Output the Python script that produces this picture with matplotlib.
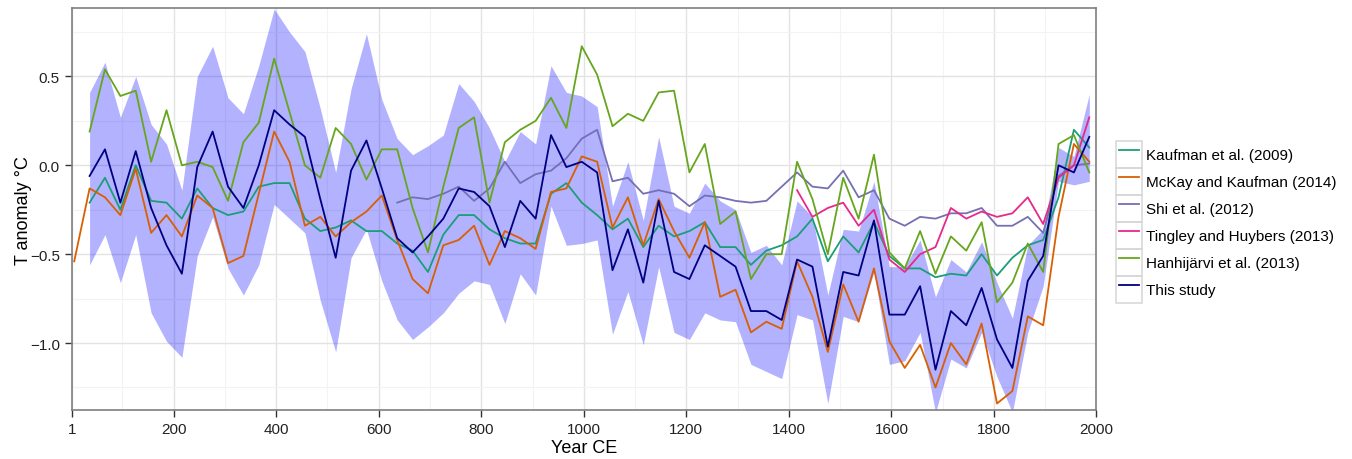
import numpy as np
import matplotlib
matplotlib.use("Agg")
from matplotlib import pyplot as plt
from matplotlib.legend_handler import HandlerLine2D
from matplotlib.lines import Line2D
from matplotlib.patches import Rectangle
from matplotlib.ticker import FixedLocator

plt.rcParams['font.family'] = ['Liberation Sans', 'DejaVu Sans']

# 30-year bins
years = np.arange(36, 1987, 30)

this_study = [-0.06, 0.09, -0.21, 0.08, -0.24, -0.45, -0.61, -0.01, 0.19, -0.12,
              -0.24, 0.00, 0.31, 0.23, 0.16, -0.19, -0.52, -0.03, 0.14, -0.13, -0.41, -0.49,
              -0.40, -0.30, -0.13, -0.15, -0.23, -0.46, -0.20, -0.30, 0.17, -0.01, 0.02,
              -0.04, -0.59, -0.36, -0.66, -0.20, -0.60, -0.64, -0.45, -0.51, -0.57, -0.82,
              -0.82, -0.87, -0.53, -0.57, -1.02, -0.60, -0.62, -0.31, -0.84, -0.84, -0.68,
              -1.15, -0.82, -0.90, -0.69, -0.98, -1.14, -0.65, -0.51, 0.00, -0.04, 0.16]

band_hi = [0.41, 0.58, 0.27, 0.50, 0.23, 0.12, -0.14, 0.50, 0.67, 0.38,
           0.29, 0.56, 0.88, 0.75, 0.64, 0.32, -0.04, 0.43, 0.74, 0.37, 0.15, 0.06,
           0.11, 0.17, 0.46, 0.36, 0.21, 0.02, 0.19, 0.12, 0.56, 0.41, 0.39,
           0.33, -0.23, 0.02, -0.31, 0.16, -0.23, -0.27, -0.10, -0.20, -0.25, -0.49,
           -0.45, -0.56, -0.20, -0.29, -0.73, -0.36, -0.37, -0.09, -0.57, -0.57, -0.42,
           -0.74, -0.53, -0.60, -0.43, -0.66, -0.86, -0.45, -0.36, 0.10, 0.05, 0.40]

band_lo = [-0.56, -0.39, -0.66, -0.39, -0.83, -0.99, -1.08, -0.51, -0.29, -0.58,
           -0.73, -0.56, -0.22, -0.30, -0.38, -0.76, -1.05, -0.52, -0.36, -0.65, -0.87, -0.98,
           -0.91, -0.83, -0.72, -0.65, -0.67, -0.89, -0.61, -0.73, -0.23, -0.45, -0.44,
           -0.42, -0.95, -0.71, -1.01, -0.57, -0.94, -0.98, -0.83, -0.87, -0.88, -1.12,
           -1.16, -1.20, -0.84, -0.87, -1.34, -0.85, -0.88, -0.60, -1.12, -1.10, -0.94,
           -1.39, -1.09, -1.14, -0.94, -1.19, -1.39, -0.94, -0.68, -0.09, -0.11, -0.09]

kaufman = [-0.21, -0.07, -0.25, 0.00, -0.20, -0.21, -0.30, -0.13, -0.24, -0.28,
           -0.26, -0.12, -0.10, -0.10, -0.30, -0.37, -0.35, -0.31, -0.37, -0.37, -0.44, -0.48,
           -0.60, -0.39, -0.28, -0.28, -0.36, -0.41, -0.44, -0.44, -0.16, -0.10, -0.21,
           -0.28, -0.36, -0.30, -0.46, -0.34, -0.40, -0.37, -0.32, -0.46, -0.46, -0.56,
           -0.48, -0.45, -0.40, -0.30, -0.54, -0.40, -0.49, -0.32, -0.51, -0.58, -0.58,
           -0.63, -0.61, -0.62, -0.50, -0.62, -0.52, -0.45, -0.42, -0.18, 0.20, 0.10]

mckay_years = np.concatenate([[6], years])
mckay = [-0.54,
         -0.13, -0.18, -0.28, -0.02, -0.38, -0.28, -0.40, -0.17, -0.24, -0.55,
         -0.51, -0.16, 0.19, 0.02, -0.34, -0.29, -0.40, -0.32, -0.26, -0.17, -0.42, -0.64,
         -0.72, -0.45, -0.42, -0.34, -0.56, -0.37, -0.41, -0.47, -0.15, -0.13, 0.05,
         0.02, -0.35, -0.18, -0.45, -0.19, -0.37, -0.52, -0.32, -0.74, -0.70, -0.94,
         -0.88, -0.92, -0.54, -0.74, -1.05, -0.67, -0.88, -0.58, -0.99, -1.14, -1.01,
         -1.25, -1.00, -1.12, -0.89, -1.34, -1.27, -0.85, -0.90, -0.29, 0.12, 0.02]

shi_years = years[20:]
shi = [-0.21, -0.18,
       -0.19, -0.16, -0.12, -0.20, -0.13, 0.02, -0.10, -0.05, -0.03, 0.04, 0.15,
       0.20, -0.09, -0.07, -0.16, -0.14, -0.16, -0.23, -0.17, -0.18, -0.20, -0.21,
       -0.20, -0.12, -0.04, -0.12, -0.13, -0.03, -0.18, -0.14, -0.30, -0.34, -0.29,
       -0.30, -0.27, -0.27, -0.24, -0.34, -0.34, -0.29, -0.38, -0.06, 0.00, 0.01]

tingley_years = years[46:]
tingley = [-0.14, -0.29, -0.24, -0.21, -0.34, -0.25, -0.53, -0.60, -0.50,
           -0.46, -0.24, -0.30, -0.26, -0.29, -0.27, -0.18, -0.33, -0.07, 0.00, 0.27]

hanhijarvi = [0.19, 0.54, 0.39, 0.42, 0.02, 0.31, 0.00, 0.02, -0.01, -0.20,
              0.13, 0.24, 0.60, 0.30, 0.00, -0.07, 0.21, 0.12, -0.08, 0.09, 0.09, -0.24,
              -0.49, -0.12, 0.21, 0.27, -0.21, 0.13, 0.20, 0.25, 0.38, 0.21, 0.67,
              0.51, 0.22, 0.29, 0.25, 0.41, 0.42, -0.04, 0.12, -0.33, -0.26, -0.64,
              -0.50, -0.50, 0.02, -0.19, -0.50, -0.07, -0.30, 0.06, -0.49, -0.58, -0.37,
              -0.61, -0.40, -0.48, -0.32, -0.77, -0.66, -0.44, -0.60, 0.12, 0.17, -0.04]

x_ticks = [1] + list(range(200, 2001, 200))


class BoxedLine(HandlerLine2D):
    # ggplot-like legend key: line inside a grey square
    def create_artists(self, legend, orig_handle, xdescent, ydescent,
                       width, height, fontsize, trans):
        arts = super().create_artists(legend, orig_handle, xdescent, ydescent,
                                      width, height, fontsize, trans)
        pad = 2.0  # points
        box = Rectangle((-xdescent - pad, -ydescent), width + 2 * pad, height,
                        fill=False, ec='#d6d6d6', lw=1.1, transform=trans)
        return [box] + arts


fig = plt.figure(figsize=(13.52, 4.6), dpi=100)
ax = fig.add_axes([0.053, 0.106, 0.758, 0.874])

ax.fill_between(years, band_lo, band_hi, color='blue', alpha=0.3, lw=0)

lw = 1.3
ax.plot(years, kaufman, color='#1B9E77', lw=lw, label='Kaufman et al. (2009)')
ax.plot(mckay_years, mckay, color='#D95F02', lw=lw, label='McKay and Kaufman (2014)')
ax.plot(shi_years, shi, color='#7570B3', lw=lw, label='Shi et al. (2012)')
ax.plot(tingley_years, tingley, color='#E7298A', lw=lw, label='Tingley and Huybers (2013)')
ax.plot(years, hanhijarvi, color='#66A61E', lw=lw, label='Hanhijärvi et al. (2013)')
ax.plot(years, this_study, color='#000080', lw=lw, label='This study')

ax.set_xlim(1, 2000)
ax.set_ylim(-1.378, 0.884)
ax.set_xticks(x_ticks)
ax.set_xticklabels([str(t) for t in x_ticks])
ax.set_yticks([-1.0, -0.5, 0.0, 0.5])
ax.set_yticklabels(['\u22121.0', '\u22120.5', '0.0', '0.5'])
ax.xaxis.set_minor_locator(FixedLocator(list(range(100, 2000, 200))))
ax.yaxis.set_minor_locator(FixedLocator([-1.25, -0.75, -0.25, 0.25, 0.75]))
ax.grid(True, which='major', color='#e3e3e3', lw=1.0)
ax.grid(True, which='minor', color='#f3f3f3', lw=0.8)
ax.set_axisbelow(True)
ax.tick_params(which='major', length=5, width=1, color='#333333',
               labelsize=11, labelcolor='#222222')
ax.tick_params(which='minor', length=0)
for s in ax.spines.values():
    s.set_color('#7f7f7f')
    s.set_linewidth(1.2)

ax.set_xlabel('Year CE', fontsize=13, labelpad=2)
ax.set_ylabel('T anomaly \u00b0C', fontsize=13, labelpad=-1.5)

handles, labels = ax.get_legend_handles_labels()
leg = fig.legend(handles, labels, loc='center left', bbox_to_anchor=(0.8273, 0.515),
                 frameon=False, fontsize=11, handlelength=1.37, handleheight=2.34,
                 handletextpad=0.45, labelspacing=0.0, borderaxespad=0, borderpad=0,
                 handler_map={Line2D: BoxedLine()})

fig.savefig('out.png', dpi=100)
